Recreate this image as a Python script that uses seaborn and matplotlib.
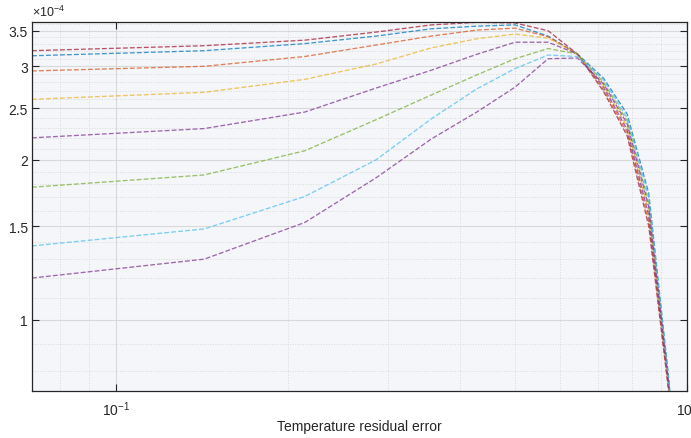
import numpy as np
import pandas as pd
import matplotlib
matplotlib.use("Agg")
import matplotlib.pyplot as plt
from matplotlib.ticker import FixedLocator, FixedFormatter, NullFormatter, LogLocator
import seaborn as sns

# Residual error levels (x) and the eight response curves (values in units of 1e-4)
residual_error = [0.0714, 0.1429, 0.2143, 0.2857, 0.3571, 0.4286, 0.5,
                  0.5714, 0.6429, 0.7143, 0.7857, 0.8571, 0.9286, 1.0]

curve_a = [3.21, 3.28, 3.36, 3.48, 3.59, 3.63, 3.62, 3.50, 3.165, 2.69, 2.22, 1.50, 0.735, 0.30]
curve_b = [3.14, 3.21, 3.31, 3.42, 3.53, 3.57, 3.59, 3.42, 3.165, 2.85, 2.44, 1.73, 0.78, 0.30]
curve_c = [2.94, 3.00, 3.13, 3.29, 3.42, 3.51, 3.54, 3.41, 3.165, 2.71, 2.25, 1.53, 0.74, 0.30]
curve_d = [2.60, 2.68, 2.835, 3.03, 3.25, 3.38, 3.45, 3.39, 3.165, 2.76, 2.31, 1.60, 0.75, 0.30]
curve_e = [2.20, 2.29, 2.46, 2.73, 2.95, 3.16, 3.33, 3.33, 3.165, 2.74, 2.28, 1.57, 0.745, 0.30]
curve_f = [1.776, 1.873, 2.08, 2.38, 2.65, 2.89, 3.10, 3.24, 3.165, 2.80, 2.37, 1.66, 0.765, 0.30]
curve_g = [1.377, 1.482, 1.706, 2.00, 2.39, 2.72, 2.97, 3.15, 3.13, 2.83, 2.40, 1.70, 0.77, 0.30]
curve_h = [1.198, 1.30, 1.524, 1.85, 2.19, 2.46, 2.74, 3.10, 3.11, 2.78, 2.34, 1.63, 0.76, 0.30]

series_names = ["a", "b", "c", "d", "e", "f", "g", "h"]
series_values = [curve_a, curve_b, curve_c, curve_d, curve_e, curve_f, curve_g, curve_h]
series_colors = ["#A2142F", "#0072BD", "#D95319", "#EDB120",
                 "#7E2F8E", "#77AC30", "#4DBEEE", "#7E2F8E"]

y_ticks = [1, 1.5, 2, 2.5, 3, 3.5]
y_tick_labels = ["1", "1.5", "2", "2.5", "3", "3.5"]
SCALE = 1e-4

rows = []
for name, vals in zip(series_names, series_values):
    for xv, yv in zip(residual_error, vals):
        rows.append({"x": xv, "y": yv * SCALE, "series": name})
df = pd.DataFrame(rows)

sns.set_theme(style="ticks")
plt.rcParams["font.family"] = ["Liberation Sans", "DejaVu Sans"]
plt.rcParams["mathtext.fontset"] = "custom"
plt.rcParams["mathtext.rm"] = "Liberation Sans"
plt.rcParams["mathtext.it"] = "Liberation Sans:italic"

fig = plt.figure(figsize=(6.91, 4.39), dpi=100)
ax = fig.add_axes([32 / 691, 1 - 392 / 439, (687 - 32) / 691, (392 - 22.7) / 439])
ax.set_facecolor("#f4f6fa")

sns.lineplot(data=df, x="x", y="y", hue="series", palette=series_colors,
             hue_order=series_names, estimator=None, sort=False, legend=False,
             linestyle="--", linewidth=0.95, alpha=0.72, ax=ax)

ax.set_xscale("log")
ax.set_yscale("log")
ax.set_xlim(0.0714, 1.0)
ax.set_ylim(0.734 * SCALE, 3.64 * SCALE)

# y ticks: linear-looking labels on a log axis, scaled by 1e-4
ax.yaxis.set_major_locator(FixedLocator([t * SCALE for t in y_ticks]))
ax.yaxis.set_major_formatter(FixedFormatter(y_tick_labels))
minor_y = [v / 10 * SCALE for v in range(7, 37) if v % 5 != 0]
ax.yaxis.set_minor_locator(FixedLocator(minor_y))
ax.yaxis.set_minor_formatter(NullFormatter())

ax.xaxis.set_major_locator(LogLocator(base=10))
ax.xaxis.set_minor_locator(LogLocator(base=10, subs=np.arange(2, 10)))
ax.xaxis.set_minor_formatter(NullFormatter())

ax.grid(True, which="major", color="#d9d9d9", linestyle="-", linewidth=0.8)
ax.grid(True, which="minor", color="#d9d9d9", linestyle=":", linewidth=0.7)
ax.set_axisbelow(True)

ax.tick_params(which="major", direction="in", length=5, width=0.8, color="#262626",
               top=True, right=True, labelsize=10, colors="#262626")
ax.tick_params(axis="x", which="major", pad=6)
ax.tick_params(axis="y", which="major", pad=3)
ax.tick_params(which="minor", length=0, top=True, right=True)

for sp in ax.spines.values():
    sp.set_color("#262626")
    sp.set_linewidth(0.9)

ax.set_xlabel("Temperature residual error", fontsize=10, color="#262626", labelpad=1)
ax.set_ylabel("")
ax.text(0.0, 1.008, r"$\times10^{-4}$", transform=ax.transAxes, ha="left",
        va="bottom", fontsize=9, color="#262626")

fig.savefig("out.png", dpi=100)
